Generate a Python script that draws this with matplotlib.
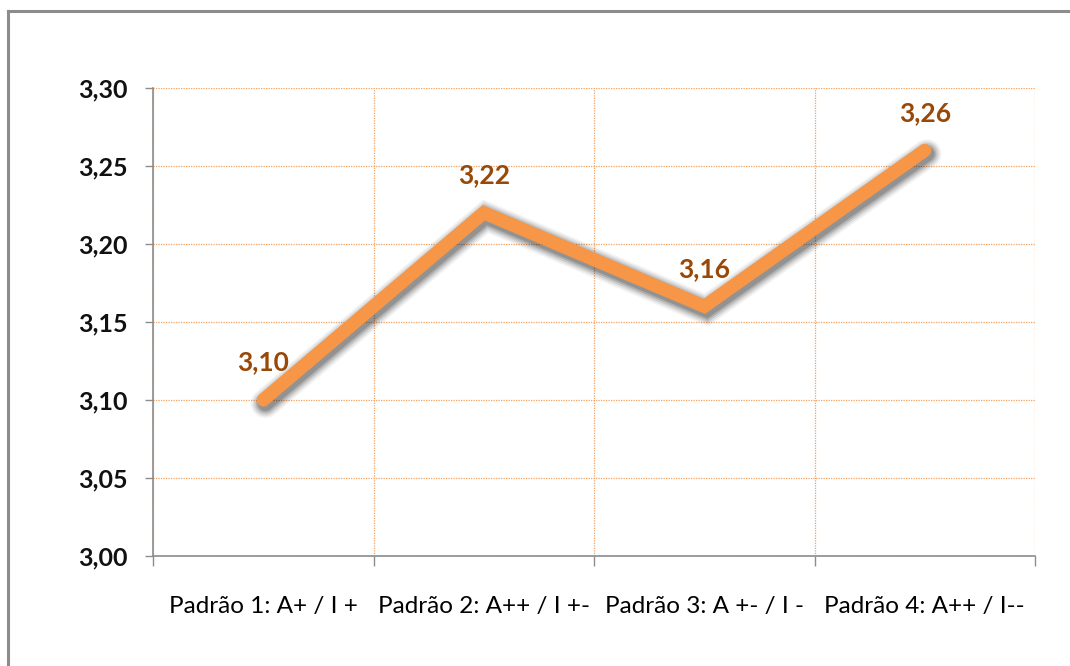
import matplotlib
matplotlib.use("Agg")
import matplotlib.pyplot as plt
import matplotlib.patheffects as pe
from matplotlib.ticker import FuncFormatter, FixedLocator
from matplotlib.lines import Line2D

categories = ["Padrão 1: A+ / I +", "Padrão 2: A++ / I +-", "Padrão 3: A +- / I -", "Padrão 4: A++ / I--"]
values = [3.10, 3.22, 3.16, 3.26]
y_ticks = [3.00, 3.05, 3.10, 3.15, 3.20, 3.25, 3.30]

plt.rcParams["font.family"] = ["Lato", "DejaVu Sans"]

fig = plt.figure(figsize=(10.70, 6.66), dpi=100)
fig.patch.set_facecolor("white")

# frame lines on the left and top of the chart area
fig.add_artist(Line2D([8 / 1070, 8 / 1070], [0, 1 - 11 / 666], color="#8c8c8c", lw=2.2))
fig.add_artist(Line2D([8 / 1070, 1], [1 - 11 / 666, 1 - 11 / 666], color="#8c8c8c", lw=2.2))

ax = fig.add_axes([153 / 1070, 1 - 556 / 666, 882 / 1070, 468 / 666])
x = list(range(len(categories)))

# soft drop shadow built from several widening translucent strokes
shadow = [
    pe.SimpleLineShadow(offset=(1.5, -2.5), shadow_color="#000000", alpha=a, linewidth=w)
    for w, a in [(21, 0.05), (18.5, 0.07), (16, 0.10), (13.5, 0.13), (11, 0.16)]
] + [pe.Normal()]
ax.plot(x, values, color="#F79646", lw=9.5, solid_capstyle="round", solid_joinstyle="miter",
        path_effects=shadow, zorder=3)

for xi, v in zip(x, values):
    ax.annotate(f"{v:.2f}".replace(".", ","), (xi, v), xytext=(0, 27), textcoords="offset points",
                ha="center", va="center", fontsize=19, fontweight="bold", color="#984807", zorder=4)

ax.set_xlim(-0.5, 3.5)
ax.set_ylim(3.00, 3.30)
ax.yaxis.set_major_locator(FixedLocator(y_ticks))
ax.yaxis.set_major_formatter(FuncFormatter(lambda v, p: f"{v:.2f}".replace(".", ",")))

# category boundaries carry the ticks and vertical gridlines
ax.xaxis.set_major_locator(FixedLocator([-0.5, 0.5, 1.5, 2.5, 3.5]))
ax.xaxis.set_major_formatter(FuncFormatter(lambda v, p: ""))
ax.xaxis.set_minor_locator(FixedLocator(x))
ax.set_xticklabels(categories, minor=True)
ax.tick_params(axis="x", which="minor", length=0, pad=29, labelsize=17.5, labelcolor="#000000")
ax.tick_params(axis="x", which="major", length=7, width=1, color="#8c8c8c", direction="out")
ax.tick_params(axis="y", length=6, width=1, color="#8c8c8c", pad=12, labelsize=18,
               labelcolor="#111111")
for lab in ax.get_yticklabels():
    lab.set_fontweight("bold")

ax.grid(True, which="major", color="#F2A365", lw=0.9, ls=(0, (1, 1)), zorder=0)
ax.set_axisbelow(True)

for s in ["top", "right"]:
    ax.spines[s].set_visible(False)
for s in ["left", "bottom"]:
    ax.spines[s].set_color("#8c8c8c")
    ax.spines[s].set_linewidth(1.2)

fig.savefig("out.png", dpi=100, facecolor="white")
